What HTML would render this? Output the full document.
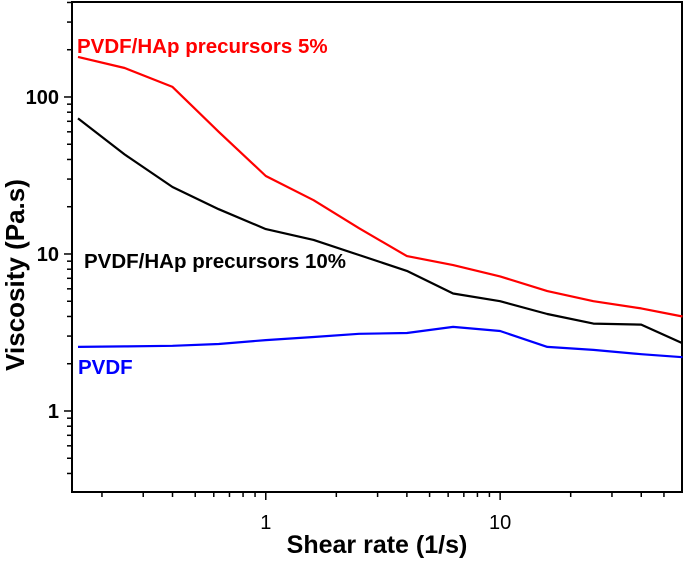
<!DOCTYPE html>
<html><head><meta charset="utf-8"><style>
html,body{margin:0;padding:0;background:#fff;}
svg text{font-family:"Liberation Sans",Arial,sans-serif;}
</style></head><body>
<svg id="chart" width="685" height="559" viewBox="0 0 685 559" xmlns="http://www.w3.org/2000/svg">
<g id="axes"></g>
<g id="series"></g>
<text x="77" y="53" font-size="20.5" font-weight="bold" fill="#ff0000">PVDF/HAp precursors 5%</text>
<text x="84" y="268" font-size="20.5" font-weight="bold" fill="#000">PVDF/HAp precursors 10%</text>
<text x="78" y="374" font-size="20.5" font-weight="bold" fill="#0000ff">PVDF</text>
<text x="377" y="553" font-size="25" font-weight="bold" text-anchor="middle">Shear rate (1/s)</text>
<text transform="translate(24,275) rotate(-90)" font-size="26" font-weight="bold" text-anchor="middle">Viscosity (Pa.s)</text>
</svg>
<script>
const shearRate = [0.158, 0.25, 0.4, 0.63, 1, 1.6, 2.5, 4, 6.3, 10, 15.9, 25, 40, 60];
const visc5 = [180, 153, 116, 60, 31.4, 22, 14.6, 9.7, 8.5, 7.2, 5.8, 5.0, 4.5, 4.0];
const visc10 = [73, 43, 26.7, 19.3, 14.4, 12.3, 9.85, 7.8, 5.6, 5.0, 4.15, 3.6, 3.55, 2.7];
const viscPvdf = [2.56, 2.58, 2.6, 2.67, 2.83, 2.96, 3.1, 3.14, 3.43, 3.23, 2.56, 2.45, 2.3, 2.2];
const xTickLabels = ["1", "10"];
const xTickValues = [1, 10];
const yTickLabels = ["1", "10", "100"];
const yTickValues = [1, 10, 100];

const L=72,R=682,T=2,B=492;
const xmin=Math.log10(0.149),xmax=Math.log10(59.7);
const ymin=-0.516,ymax=2.605;
const X=v=>L+(Math.log10(v)-xmin)/(xmax-xmin)*(R-L);
const Y=v=>B-(Math.log10(v)-ymin)/(ymax-ymin)*(B-T);
const NS="http://www.w3.org/2000/svg";
const axes=document.getElementById('axes');
function mk(tag,attrs,parent){const e=document.createElementNS(NS,tag);for(const k in attrs)e.setAttribute(k,attrs[k]);parent.appendChild(e);return e;}

const frame=mk('rect',{x:L,y:T,width:R-L,height:B-T,fill:'none',stroke:'#000','stroke-width':2},axes);



for(let d=-1;d<=1;d++){for(let m=1;m<=9;m++){const v=m*Math.pow(10,d);if(v<0.149||v>59.7)continue;const x=X(v);const major=m===1;
const t=mk('line',{x1:x,y1:B,x2:x,y2:B+(major?8:5),stroke:'#000','stroke-width':1.5},axes);

}}
xTickValues.forEach((v,i)=>{const t=mk('text',{x:X(v),y:529,'font-size':20,'text-anchor':'middle'},axes);t.textContent=xTickLabels[i];

});
for(let d=-1;d<=2;d++){for(let m=1;m<=9;m++){const v=m*Math.pow(10,d);const lv=Math.log10(v);if(lv<ymin||lv>ymax)continue;const y=Y(v);const major=m===1;
const t=mk('line',{x1:L,y1:y,x2:L-(major?8:5),y2:y,stroke:'#000','stroke-width':1.5},axes);

}}
yTickValues.forEach((v,i)=>{const t=mk('text',{x:59,y:Y(v)+7,'font-size':20,'font-weight':'bold','text-anchor':'end'},axes);t.textContent=yTickLabels[i];

});

const sg=document.getElementById('series');
[[visc5,'#ff0000','series-pvdf-hap-5'],[visc10,'#000000','series-pvdf-hap-10'],[viscPvdf,'#0000ff','series-pvdf']].forEach(([arr,c,n])=>{
const d=arr.map((v,i)=>(i?'L':'M')+X(shearRate[i]).toFixed(1)+','+Y(v).toFixed(1)).join(' ');
const p=mk('path',{d:d,fill:'none',stroke:c,'stroke-width':2.2,'stroke-linejoin':'round'},sg);


});
</script>
</body></html>
